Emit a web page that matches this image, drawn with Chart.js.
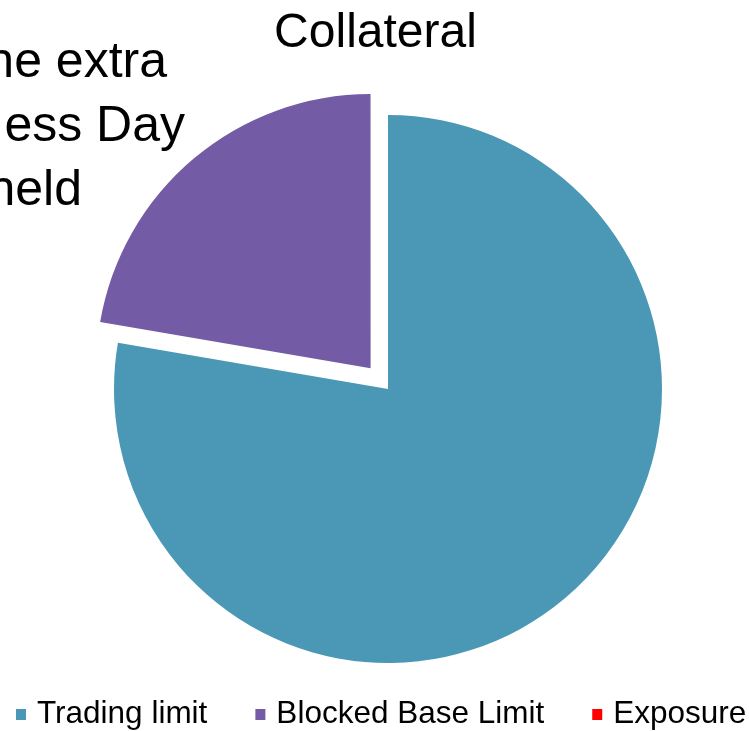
<!DOCTYPE html>
<html>
<head>
<meta charset="utf-8">
<script src="https://cdn.jsdelivr.net/npm/chart.js@4/dist/chart.umd.min.js"></script>
<style>
  html, body { margin: 0; padding: 0; background: #ffffff; }
  #wrap { position: relative; width: 749px; height: 731px; }
</style>
</head>
<body>
<div id="wrap"><canvas id="c" width="749" height="731"></canvas></div>
<script>
const chartTitle = 'Collateral';
const categories = ['Trading limit', 'Blocked Base Limit', 'Exposure'];
const values = [77.7, 22.3, 0];
const sliceColors = ['#4A98B5', '#745BA5', '#FF0000'];
const sliceOffsets = [0, 108, 0];
const noteLines = ['he extra', 'ess Day', 'held'];

const FONT = '"Liberation Sans", Arial, Helvetica, sans-serif';

const textPlugin = {
  id: 'texts',
  afterDraw(chart) {
    const ctx = chart.ctx;
    ctx.save();
    ctx.fillStyle = '#000000';
    ctx.textBaseline = 'alphabetic';
    // title
    ctx.font = '48px ' + FONT;
    ctx.textAlign = 'center';
    ctx.fillText(chartTitle, 375.5, 47);
    // partially visible note text box at left
    ctx.font = '50px ' + FONT;
    ctx.textAlign = 'right';
    const noteRight = [167, 185, 82];
    const noteBase = [77, 141, 205];
    noteLines.forEach((t, i) => ctx.fillText(t, noteRight[i], noteBase[i]));
    // legend
    ctx.font = '31.5px ' + FONT;
    ctx.textAlign = 'left';
    let x = 16;
    categories.forEach((label, i) => {
      ctx.fillStyle = sliceColors[i];
      ctx.fillRect(x, 709, 10, 11);
      ctx.fillStyle = '#000000';
      const tx = x + 21;
      ctx.fillText(label, tx, 723);
      x = tx + ctx.measureText(label).width + 48;
    });
    ctx.restore();
  }
};

new Chart(document.getElementById('c'), {
  type: 'pie',
  data: {
    labels: categories,
    datasets: [{
      data: values,
      backgroundColor: sliceColors,
      borderWidth: 0,
      offset: sliceOffsets,
      radius: 274
    }]
  },
  options: {
    responsive: false,
    animation: false,
    events: [],
    layout: { padding: { left: 27, right: 0, top: 47, bottom: 0 } },
    plugins: {
      legend: { display: false },
      title: { display: false },
      tooltip: { enabled: false }
    }
  },
  plugins: [textPlugin]
});
</script>
</body>
</html>
